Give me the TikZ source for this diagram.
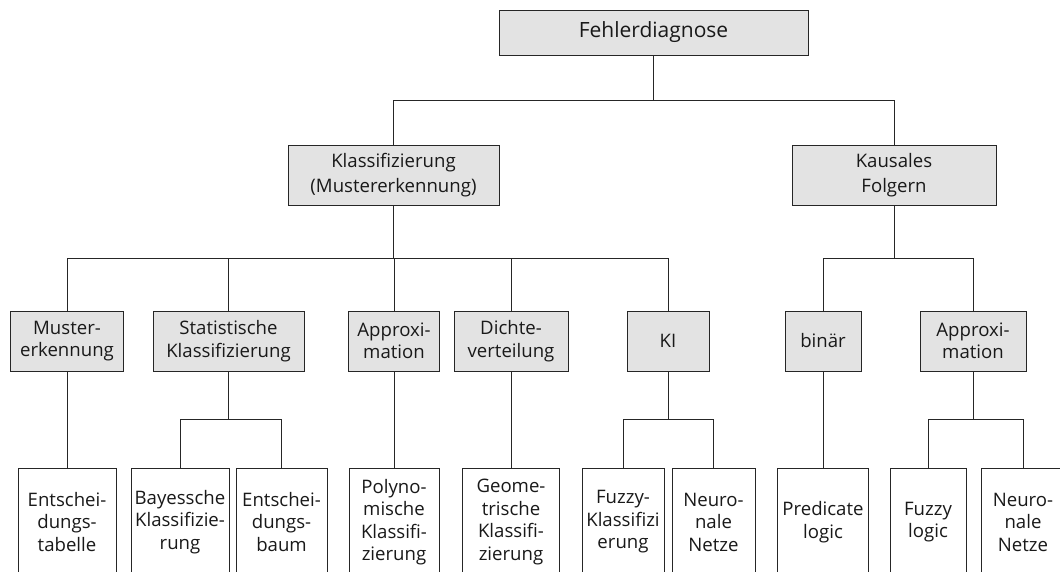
\documentclass[tikz,border=0pt]{standalone}
\usepackage{fontspec}
\setmainfont{Open Sans}
\newcommand\rootfont{\fontsize{21}{25}\selectfont}
\newcommand\midfont{\fontsize{18.6}{24.5}\selectfont}
\newcommand\leaffont{\fontsize{18.6}{22.5}\selectfont}
\tikzset{
  box/.style={draw=black!85, line width=0.8pt, inner sep=0pt, align=center, text=black!90},
  gbox/.style={box, fill=gray!22, minimum height=60pt},
  wbox/.style={box, fill=white, minimum height=108pt, font=\leaffont},
  link/.style={draw=black!85, line width=0.8pt}
}
\begin{document}
\begin{tikzpicture}[x=1pt, y=-1pt]
\useasboundingbox (0,0) rectangle (1060,572);
\clip (0,0) rectangle (1060,572);
\fill[white] (0,0) rectangle (1060,572);

% root
\node[gbox, minimum width=309pt, minimum height=45pt, font=\rootfont] (root) at (653.5,32.5) {Fehlerdiagnose};

% second level
\node[gbox, minimum width=211pt, font=\midfont] (kl) at (393.5,175) {Klassifizierung\\(Mustererkennung)};
\node[gbox, minimum width=204pt, font=\midfont] (kf) at (894,175) {Kausales\\Folgern};

% third level
\node[gbox, minimum width=113pt, font=\leaffont] (mu) at (67,341) {Muster-\\erkennung};
\node[gbox, minimum width=151pt, font=\leaffont] (st) at (228.5,341) {Statistische\\Klassifizierung};
\node[gbox, minimum width=91pt, font=\leaffont] (ap) at (394,341) {Approxi-\\mation};
\node[gbox, minimum width=114pt, font=\leaffont] (di) at (511,341) {Dichte-\\verteilung};
\node[gbox, minimum width=82pt, font=\leaffont] (ki) at (668,341) {KI};
\node[gbox, minimum width=76pt, font=\leaffont] (bi) at (823,341) {binär};
\node[gbox, minimum width=106pt, font=\leaffont] (ax) at (973,341) {Approxi-\\mation};

% leaves
\node[wbox, minimum width=98pt] (et) at (67,522) {Entschei-\\dungs-\\tabelle};
\node[wbox, minimum width=98pt] (bk) at (180,522) {Bayessche\\Klassifizie-\\rung};
\node[wbox, minimum width=91pt] (eb) at (281.5,522) {Entschei-\\dungs-\\baum};
\node[wbox, minimum width=90pt] (po) at (394,522) {Polyno-\\mische\\Klassifi-\\zierung};
\node[wbox, minimum width=97pt] (ge) at (511,522) {Geome-\\trische\\Klassifi-\\zierung};
\node[wbox, minimum width=82pt] (fk) at (623,522) {Fuzzy-\\Klassifizi\\erung};
\node[wbox, minimum width=83pt] (nn) at (713.5,522) {Neuro-\\nale\\Netze};
\node[wbox, minimum width=91pt] (pl) at (823,522) {Predicate\\logic};
\node[wbox, minimum width=76pt] (fl) at (928,522) {Fuzzy\\logic};
\node[wbox, minimum width=84pt] (nx) at (1023,522) {Neuro-\\nale\\Netze};

% bus lines
\coordinate (busA) at (0,100);
\coordinate (busB) at (0,258);
\coordinate (busC) at (0,419);

% root to second level
\draw[link] (root.south) -- (root.south |- busA);
\draw[link] (kl.north) |- (kf.north |- busA) -- (kf.north);

% classification branch
\draw[link] (kl.south) -- (kl.south |- busB);
\draw[link] (mu.north) |- (ki.north |- busB) -- (ki.north);
\foreach \n in {st,ap,di} \draw[link] (\n.north) -- (\n.north |- busB);

% causal branch
\draw[link] (kf.south) -- (kf.south |- busB);
\draw[link] (bi.north) |- (ax.north |- busB) -- (ax.north);

% single children
\draw[link] (mu.south) -- (mu.south |- et.north);
\draw[link] (ap.south) -- (po.north);
\draw[link] (di.south) -- (ge.north);
\draw[link] (bi.south) -- (pl.north);

% split children
\draw[link] (st.south) -- (st.south |- busC);
\draw[link] (bk.north) |- (eb.north |- busC) -- (eb.north);
\draw[link] (ki.south) -- (ki.south |- busC);
\draw[link] (fk.north) |- (nn.north |- busC) -- (nn.north);
\draw[link] (ax.south) -- (ax.south |- busC);
\draw[link] (fl.north) |- (nx.north |- busC) -- (nx.north);
\end{tikzpicture}
\end{document}
